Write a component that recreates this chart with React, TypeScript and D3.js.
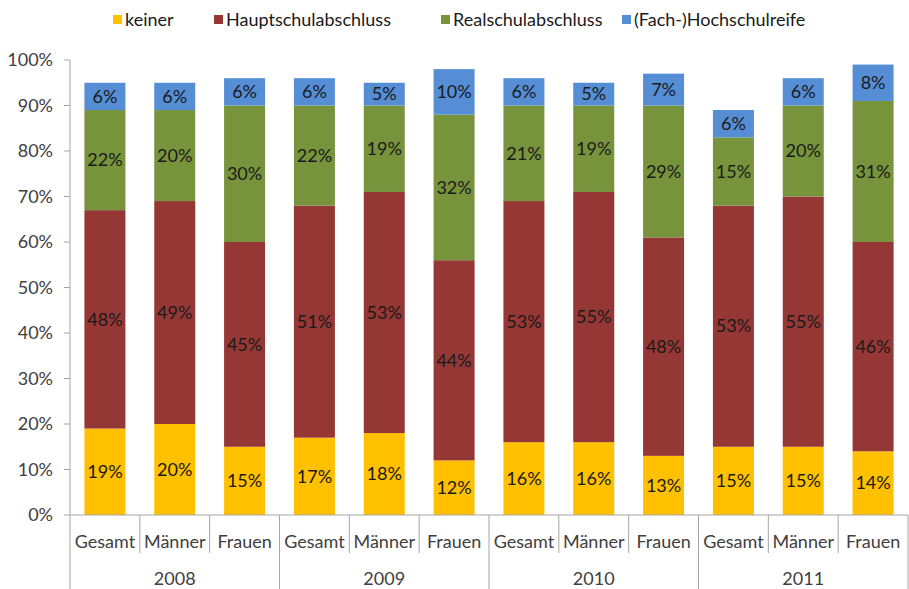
import React from "react";
import * as d3 from "d3";

const years = ["2008", "2009", "2010", "2011"];
const groups = ["Gesamt", "Männer", "Frauen"];
const seriesNames = ["keiner", "Hauptschulabschluss", "Realschulabschluss", "(Fach-)Hochschulreife"];
const seriesColors = ["#FFC000", "#953735", "#77933C", "#558ED5"];

// order: 2008 G/M/F, 2009 G/M/F, 2010 G/M/F, 2011 G/M/F
const keiner = [19, 20, 15, 17, 18, 12, 16, 16, 13, 15, 15, 14];
const haupt = [48, 49, 45, 51, 53, 44, 53, 55, 48, 53, 55, 46];
const real = [22, 20, 30, 22, 19, 32, 21, 19, 29, 15, 20, 31];
const hoch = [6, 6, 6, 6, 5, 10, 6, 5, 7, 6, 6, 8];

const yTicks = [0, 10, 20, 30, 40, 50, 60, 70, 80, 90, 100];

const W = 909;
const H = 589;
const FONT = "Lato, 'Open Sans', sans-serif";
const FS = 18;

export default function App() {
  const left = 70;
  const right = 908;
  const top = 60;
  const bottom = 515;

  const cats = years.flatMap((yr) => groups.map((g) => `${yr}-${g}`));
  const x = d3.scaleBand<string>().domain(cats).range([left, right]).paddingInner(0).paddingOuter(0);
  const y = d3.scaleLinear().domain([0, 100]).range([bottom, top]);
  const bw = 41;

  const rows = cats.map((c, i) => ({ c, keiner: keiner[i], haupt: haupt[i], real: real[i], hoch: hoch[i] }));
  const keys = ["keiner", "haupt", "real", "hoch"];
  const stacked = d3.stack<any>().keys(keys)(rows);

  const legendItems = [
    { x: 113, name: seriesNames[0], color: seriesColors[0] },
    { x: 214, name: seriesNames[1], color: seriesColors[1] },
    { x: 441, name: seriesNames[2], color: seriesColors[2] },
    { x: 622, name: seriesNames[3], color: seriesColors[3] },
  ];

  const yearBoundaries = d3.range(years.length + 1).map((i) => left + i * 3 * x.bandwidth());

  return (
    <svg width={W} height={H} style={{ position: "absolute", left: 0, top: 0, background: "#fff" }} fontFamily={FONT}>
      {/* legend */}
      {legendItems.map((l) => (
        <g key={l.name}>
          <rect x={l.x} y={15} width={9} height={9} fill={l.color} />
          <text x={l.x + 12} y={20} dy="0.35em" fontSize={FS} fill="#1a1a1a">
            {l.name}
          </text>
        </g>
      ))}

      {/* bars */}
      {stacked.map((s, si) => (
        <g key={s.key}>
          {s.map((d, i) => {
            const cx = (x(cats[i]) as number) + x.bandwidth() / 2;
            const y0 = y(d[0]);
            const y1 = y(d[1]);
            const val = d[1] - d[0];
            return (
              <g key={i}>
                <rect x={cx - bw / 2} y={y1} width={bw} height={y0 - y1} fill={seriesColors[si]} />
                <text x={cx} y={(y0 + y1) / 2} dy="0.35em" textAnchor="middle" fontSize={FS} fill="#1a1a1a">
                  {`${val}%`}
                </text>
              </g>
            );
          })}
        </g>
      ))}

      {/* y axis */}
      <line x1={left} x2={left} y1={top} y2={bottom} stroke="#a6a6a6" />
      {yTicks.map((t) => (
        <g key={t}>
          <line x1={left - 6} x2={left} y1={y(t)} y2={y(t)} stroke="#a6a6a6" />
          <text x={53} y={y(t)} dy="0.35em" textAnchor="end" fontSize={FS} fill="#404040">
            {`${t}%`}
          </text>
        </g>
      ))}

      {/* x axis */}
      <line x1={left} x2={right} y1={bottom} y2={bottom} stroke="#a6a6a6" />
      {cats.map((c, i) => (
        <g key={c}>
          {i % 3 !== 0 && (
            <line x1={x(c) as number} x2={x(c) as number} y1={bottom} y2={553} stroke="#a6a6a6" />
          )}
          <text x={(x(c) as number) + x.bandwidth() / 2} y={542} dy="0.35em" textAnchor="middle" fontSize={FS} fill="#404040">
            {groups[i % 3]}
          </text>
        </g>
      ))}
      {yearBoundaries.map((bx, i) => (
        <line key={i} x1={bx} x2={bx} y1={bottom} y2={H} stroke="#a6a6a6" />
      ))}
      {years.map((yr, i) => (
        <text key={yr} x={left + (i * 3 + 1.5) * x.bandwidth()} y={579} dy="0.35em" textAnchor="middle" fontSize={FS} fill="#404040">
          {yr}
        </text>
      ))}
    </svg>
  );
}
